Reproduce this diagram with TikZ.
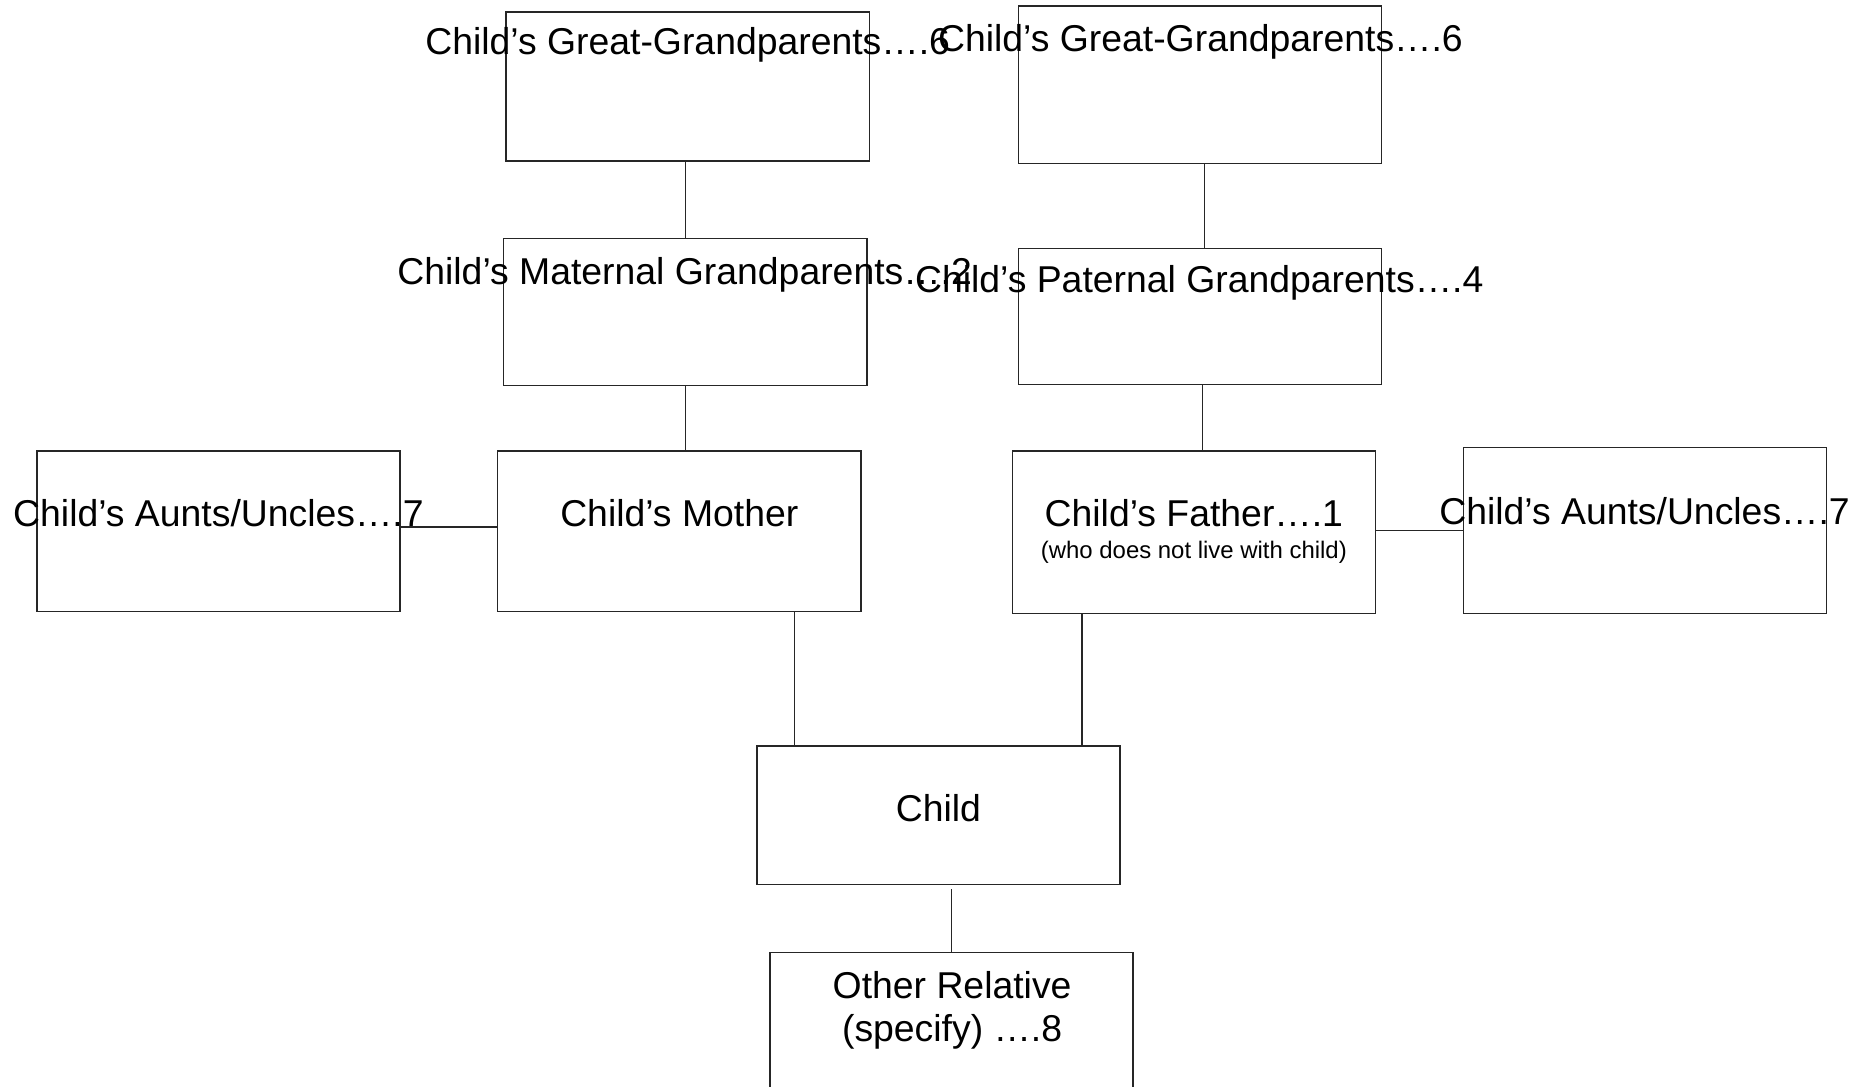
\documentclass[tikz,border=0pt]{standalone}
\usepackage{fontspec}
\setmainfont{Liberation Sans}
\usepackage{tikz}
\usetikzlibrary{positioning}

\begin{document}
\begin{tikzpicture}[x=0.01cm, y=-0.01cm,
    famBox/.style={draw=black!85, line width=0.35pt, rectangle, minimum width=3.04cm, inner sep=0pt, outer sep=0pt},
    famText/.style={anchor=base, inner sep=0pt, font=\fontsize{8.9pt}{10.3pt}\selectfont},
    famSub/.style={anchor=base, inner sep=0pt, font=\fontsize{5.7pt}{6.6pt}\selectfont},
    famLine/.style={draw=black!85, line width=0.35pt}]
            % page frame of the family chart
            \clip (0,0) rectangle (1568,910);

            % boxes
            \node[famBox, minimum height=1.25cm] (ggMat) at (576,72.5) {};
            \node[famBox, minimum height=1.32cm] (ggPat) at (1005,71) {};
            \node[famBox, minimum height=1.23cm] (gpMat) at (574,261.5) {};
            \node[famBox, minimum height=1.14cm] (gpPat) at (1005,265) {};
            \node[famBox, minimum height=1.34cm] (auntsMat) at (183,445) {};
            \node[famBox, minimum height=1.34cm] (mother) at (569,445) {};
            \node[famBox, minimum height=1.36cm] (father) at (1000,446) {};
            \node[famBox, minimum height=1.39cm] (auntsPat) at (1378,444.5) {};
            \node[famBox, minimum height=1.16cm] (child) at (786,683) {};
            \node[famBox, minimum height=1.40cm] (other) at (797,868) {};

            % texts
            \node[famText] (ggMatText) at (576,46) {Child’s Great-Grandparents….6};
            \node[famText] (ggPatText) at (1005.5,43.3) {Child’s Great-Grandparents….6};
            \node[famText] (gpMatText) at (573.5,238.7) {Child’s Maternal Grandparents….2};
            \node[famText] (gpPatText) at (1004.5,245.1) {Child’s Paternal Grandparents….4};
            \node[famText] (auntsMatText) at (183,441.4) {Child’s Aunts/Uncles….7};
            \node[famText] (motherText) at (569,441.4) {Child’s Mother};
            \node[famText] (fatherText) at (1000,441.1) {Child’s Father….1};
            \node[famSub] (fatherNote) at (1000,467.6) {(who does not live with child)};
            \node[famText] (auntsPatText) at (1377.5,439.7) {Child’s Aunts/Uncles….7};
            \node[famText] (childText) at (786,688.2) {Child};
            \node[famText] (otherText) at (797.5,836.2) {Other Relative};
            \node[famText] (otherNote) at (797.5,872.4) {(specify) ….8};

            % connectors
            \draw[famLine] (ggMat.south -| gpMat.north) -- (gpMat.north);
            \draw[famLine] ([xshift=0.04cm]ggPat.south) -- ([xshift=0.04cm]gpPat.north);
            \draw[famLine] (gpMat.south) -- (gpMat.south |- mother.north);
            \draw[famLine] ([xshift=0.02cm]gpPat.south) -- ([xshift=0.02cm]gpPat.south |- father.north);
            \draw[famLine] ([yshift=0.035cm]auntsMat.east) -- ([yshift=0.035cm]mother.west);
            \draw[famLine] ([yshift=0.015cm]father.east) -- ([yshift=0.015cm]father.east -| auntsPat.west);
            \draw[famLine] ([xshift=0.965cm]mother.south) -- ([xshift=0.965cm]mother.south |- child.north);
            \draw[famLine] ([xshift=-0.935cm]father.south) -- ([xshift=-0.935cm]father.south |- child.north);
            \draw[famLine] ([yshift=-0.04cm]child.south -| other.north) -- (other.north);
        \end{tikzpicture}
\end{document}
